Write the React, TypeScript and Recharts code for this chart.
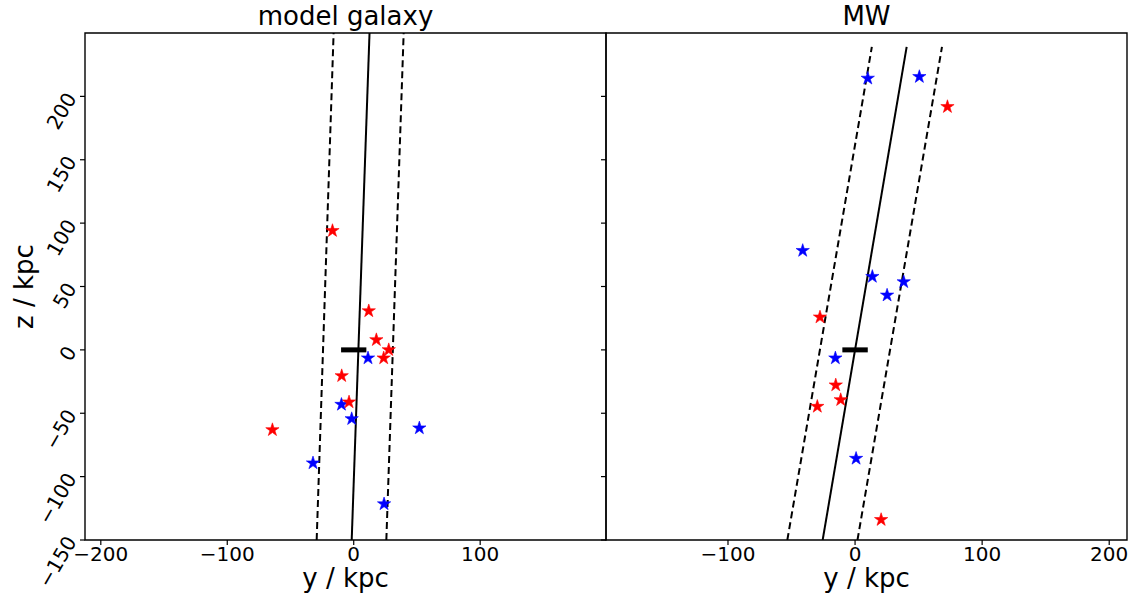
import { ScatterChart, Scatter, XAxis, YAxis, ReferenceLine, ReferenceArea } from 'recharts'

// model galaxy panel (y, z in kpc)
const modelRed = [
  { y: -16.8, z: 94.0 },
  { y: 11.9, z: 30.7 },
  { y: 17.9, z: 7.9 },
  { y: 27.7, z: 0.0 },
  { y: 23.7, z: -6.5 },
  { y: -9.5, z: -20.5 },
  { y: -3.7, z: -41.2 },
  { y: -64.3, z: -63.1 },
]
const modelBlue = [
  { y: 11.3, z: -6.5 },
  { y: -9.7, z: -43.1 },
  { y: -1.6, z: -54.4 },
  { y: 51.9, z: -61.7 },
  { y: -32.2, z: -89.3 },
  { y: 24.0, z: -121.6 },
]
const modelAxis = [{ y: -1.6, z: -150 }, { y: 12.5, z: 250 }]
const modelEdgeLo = [{ y: -29.3, z: -150 }, { y: -15.9, z: 250 }]
const modelEdgeHi = [{ y: 25.8, z: -150 }, { y: 39.5, z: 250 }]

// MW panel
const mwRed = [
  { y: 72.7, z: 191.8 },
  { y: -27.6, z: 25.8 },
  { y: -15.2, z: -27.8 },
  { y: -11.3, z: -39.4 },
  { y: -29.7, z: -44.7 },
  { y: 20.5, z: -134.0 },
]
const mwBlue = [
  { y: 10.0, z: 214.2 },
  { y: 50.6, z: 215.5 },
  { y: -41.2, z: 78.3 },
  { y: 13.6, z: 57.8 },
  { y: 25.2, z: 43.1 },
  { y: 38.3, z: 53.6 },
  { y: -15.5, z: -6.5 },
  { y: 0.8, z: -85.7 },
]
const mwAxis = [{ y: -25.5, z: -150 }, { y: 40.6, z: 239 }]
const mwEdgeLo = [{ y: -53.3, z: -150 }, { y: 13.2, z: 239 }]
const mwEdgeHi = [{ y: 1.9, z: -150 }, { y: 68.4, z: 239 }]

// disc marker at the origin
const disc = [{ y: -10, z: 0 }, { y: 10, z: 0 }]

const zDomain = [-150, 250]
const zTicks = [-150, -100, -50, 0, 50, 100, 150, 200]
const modelDomain = [-212.5, 199.5]
const modelTicks = [-200, -100, 0, 100]
const mwDomain = [-196, 214]
const mwTicks = [-100, 0, 100, 200]

const FONT = '"DejaVu Sans", sans-serif'
const fmt = (v: number) => String(v).replace('-', '\u2212')

function starPath(cx: number, cy: number, R: number) {
  const r = R * 0.382
  let d = ''
  for (let i = 0; i < 10; i++) {
    const a = -Math.PI / 2 + (i * Math.PI) / 5
    const rad = i % 2 === 0 ? R : r
    d += (i === 0 ? 'M' : 'L') + (cx + rad * Math.cos(a)).toFixed(2) + ',' + (cy + rad * Math.sin(a)).toFixed(2)
  }
  return d + 'Z'
}

const makeStar = (color: string) => (props: any) => {
  const { cx, cy } = props
  if (cx == null || cy == null) return <g />
  return <path d={starPath(cx, cy, 7)} fill={color} stroke={color} strokeWidth={0.6} />
}
const redStar = makeStar('#ff0000')
const blueStar = makeStar('#0000ff')

const YTick = (props: any) => {
  const { x, y, payload } = props
  return (
    <text
      transform={`translate(${x - 6},${y - 2}) rotate(-60)`}
      textAnchor="end"
      dominantBaseline="central"
      fontSize={20}
      fontFamily={FONT}
      fill="#000"
    >
      {fmt(payload.value)}
    </text>
  )
}
const NoTick = () => <g />

const yLabel = (props: any) => {
  const { x, y, height } = props.viewBox
  const cx = x + 33
  const cy = y + height / 2
  return (
    <text x={cx} y={cy} transform={`rotate(-90 ${cx} ${cy})`} textAnchor="middle" fontSize={26} fontFamily={FONT} fill="#000">
      z / kpc
    </text>
  )
}
const xLabel = (props: any) => {
  const { x, y, width } = props.viewBox
  return (
    <text x={x + width / 2} y={y + 47} textAnchor="middle" fontSize={26} fontFamily={FONT} fill="#000">
      y / kpc
    </text>
  )
}
const titleLabel = (text: string) => (props: any) => {
  const { x, y, width } = props.viewBox
  return (
    <text x={x + width / 2} y={y - 8} textAnchor="middle" fontSize={26} fontFamily={FONT} fill="#000">
      {text}
    </text>
  )
}

interface PanelProps {
  title: string
  domain: number[]
  ticks: number[]
  red: { y: number; z: number }[]
  blue: { y: number; z: number }[]
  axis: { y: number; z: number }[]
  lo: { y: number; z: number }[]
  hi: { y: number; z: number }[]
  showY: boolean
  width: number
  yWidth: number
  right: number
}

function Panel({ title, domain, ticks, red, blue, axis, lo, hi, showY, width, yWidth, right }: PanelProps) {
  const seg = (pts: { y: number; z: number }[]) => pts.map((p) => ({ x: p.y, y: p.z }))
  return (
    <ScatterChart width={width} height={595} margin={{ top: 33, right, bottom: 0, left: 0 }}>
      <XAxis
        type="number"
        dataKey="y"
        domain={domain}
        ticks={ticks}
        allowDataOverflow
        height={55}
        tickSize={5}
        tickMargin={2}
        axisLine={false}
        tickLine={{ stroke: '#000', strokeWidth: 1.2 }}
        tick={{ fontSize: 20, fill: '#000', fontFamily: FONT }}
        tickFormatter={fmt}
        label={xLabel}
      />
      <YAxis
        type="number"
        dataKey="z"
        domain={zDomain}
        ticks={zTicks}
        allowDataOverflow
        width={yWidth}
        tickSize={5}
        tickMargin={3}
        axisLine={false}
        tickLine={{ stroke: '#000', strokeWidth: 1.2 }}
        tick={showY ? YTick : NoTick}
        label={showY ? yLabel : undefined}
      />
      <ReferenceArea
        x1={domain[0]}
        x2={domain[1]}
        y1={zDomain[0]}
        y2={zDomain[1]}
        fill="none"
        fillOpacity={0}
        stroke="#000"
        strokeWidth={1.4}
        label={titleLabel(title)}
      />
      <ReferenceLine segment={seg(axis)} stroke="#000" strokeWidth={2} ifOverflow="hidden" />
      <ReferenceLine segment={seg(lo)} stroke="#000" strokeWidth={2} strokeDasharray="7 4" ifOverflow="hidden" />
      <ReferenceLine segment={seg(hi)} stroke="#000" strokeWidth={2} strokeDasharray="7 4" ifOverflow="hidden" />
      <ReferenceLine segment={seg(disc)} stroke="#000" strokeWidth={5} ifOverflow="hidden" />
      <Scatter data={blue} shape={blueStar} isAnimationActive={false} />
      <Scatter data={red} shape={redStar} isAnimationActive={false} />
    </ScatterChart>
  )
}

export default function App() {
  return (
    <div style={{ position: 'absolute', left: 0, top: 0, width: 1135, height: 595, background: '#fff' }}>
      <div style={{ position: 'absolute', left: 0, top: 0 }}>
        <Panel
          title="model galaxy"
          domain={modelDomain}
          ticks={modelTicks}
          red={modelRed}
          blue={modelBlue}
          axis={modelAxis}
          lo={modelEdgeLo}
          hi={modelEdgeHi}
          showY
          width={620}
          yWidth={85}
          right={14}
        />
      </div>
      <div style={{ position: 'absolute', left: 546, top: 0 }}>
        <Panel
          title="MW"
          domain={mwDomain}
          ticks={mwTicks}
          red={mwRed}
          blue={mwBlue}
          axis={mwAxis}
          lo={mwEdgeLo}
          hi={mwEdgeHi}
          showY={false}
          width={589}
          yWidth={60}
          right={8}
        />
      </div>
    </div>
  )
}
